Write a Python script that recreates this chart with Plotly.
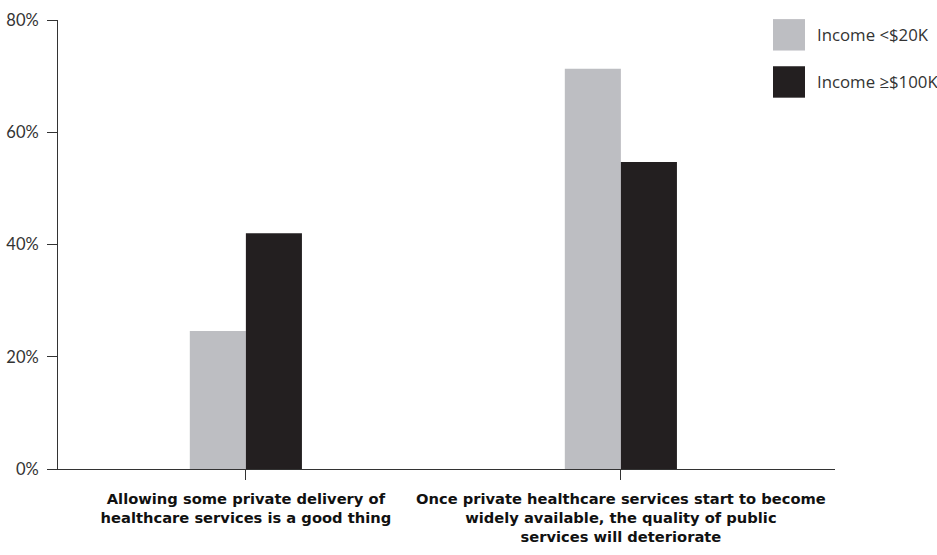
import plotly.graph_objects as go

categories = [
    "Allowing some private delivery of<br>healthcare services is a good thing",
    "Once private healthcare services start to become<br>widely available, the quality of public<br>services will deteriorate",
]
series_names = ["Income <$20K", "Income ≥$100K"]
low_income = [24.6, 71.3]
high_income = [42.0, 54.7]
y_ticks = [0, 20, 40, 60, 80]
y_ticklabels = ["0%", "20%", "40%", "60%", "80%"]
colors = ["#bdbec2", "#231f20"]

x_idx = list(range(len(categories)))

fig = go.Figure()
for name, vals, col in zip(series_names, [low_income, high_income], colors):
    fig.add_trace(go.Bar(x=x_idx, y=vals, name=name, marker=dict(color=col, line=dict(width=0)),
                         showlegend=False))

# custom legend (large squares)
for i, (name, col) in enumerate(zip(series_names, colors)):
    y0 = 1.0 - i * 0.105
    fig.add_shape(type="rect", xref="paper", yref="paper",
                  x0=(773 - 58) / 777, x1=(805 - 58) / 777,
                  y0=y0 - 0.068, y1=y0 + 0.002, fillcolor=col, line=dict(width=0))
    fig.add_annotation(xref="paper", yref="paper", x=(815 - 58) / 777, y=y0 - 0.033,
                       text=name, showarrow=False, xanchor="left", yanchor="middle",
                       font=dict(family="Open Sans, sans-serif", size=16.8, color="#333333"))

fig.update_layout(
    width=937, height=555,
    margin=dict(l=58, r=102, t=20, b=86, autoexpand=False),
    paper_bgcolor="white", plot_bgcolor="white",
    barmode="group", bargap=0.701, bargroupgap=0,
    xaxis=dict(range=[-0.501, 1.571], tickmode="array", tickvals=x_idx,
               ticktext=["<b>%s</b>" % c for c in categories], automargin=False,
               showline=True, linecolor="#333333", linewidth=1, ticks="outside", ticklen=10,
               tickcolor="#333333", showgrid=False, zeroline=False, ticklabelstandoff=6,
               tickfont=dict(family="DejaVu Sans, sans-serif", size=14.7, color="#111111")),
    yaxis=dict(range=[0, 80], tickmode="array", tickvals=y_ticks, ticktext=y_ticklabels,
               automargin=False,
               showline=True, linecolor="#333333", linewidth=1, ticks="outside", ticklen=10,
               tickcolor="#333333", showgrid=False, zeroline=False, ticklabelstandoff=5,
               tickfont=dict(family="Lato, sans-serif", size=16.5, color="#333333")),
)

fig.write_html("out.html")
